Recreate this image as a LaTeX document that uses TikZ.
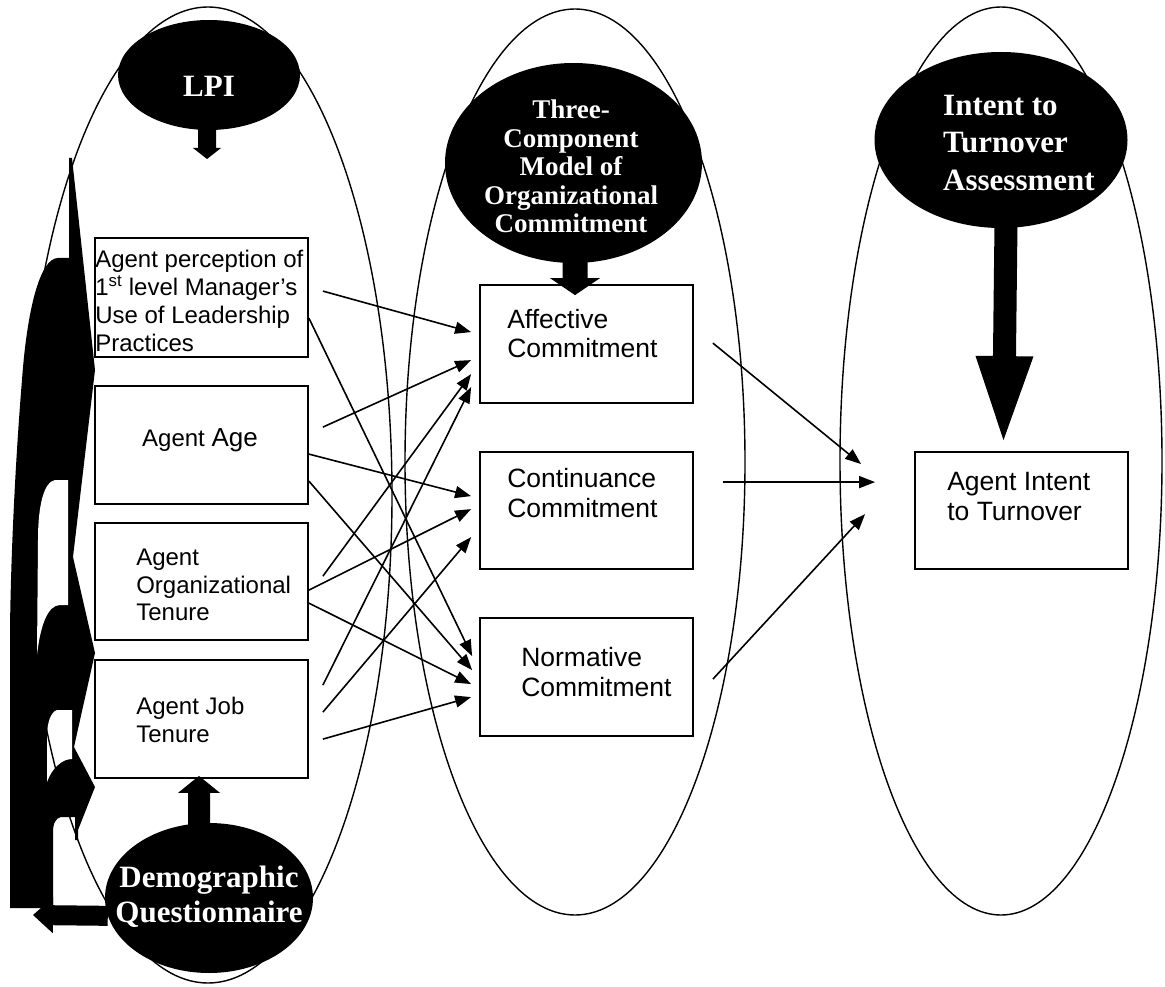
\documentclass[tikz,border=0pt]{standalone}
\usepackage{fontspec}
\setmainfont{Liberation Serif}
\newfontfamily\arialf{Liberation Sans}
\usetikzlibrary{arrows.meta,calc,shapes.geometric}
\newcommand\blockarr[5]{%
  \path ($(#2)!#5!(#1)$) coordinate (tmpH);
  \fill ($(#1)!#3!90:(#2)$) -- ($(tmpH)!#3!90:(#2)$) -- ($(tmpH)!#4!90:(#2)$) -- (#2)
     -- ($(tmpH)!#4!-90:(#2)$) -- ($(tmpH)!#3!-90:(#2)$) -- ($(#1)!#3!-90:(#2)$) -- cycle;}
\begin{document}
\begin{tikzpicture}[x=1pt,y=-1pt,
  box/.style={draw, line width=1.8pt, fill=white, inner sep=0pt, minimum width=213pt},
  oval/.style={draw, line width=1.4pt, ellipse, inner sep=0pt},
  blk/.style={fill=black, ellipse, inner sep=0pt},
  wlbl/.style={text=white, inner sep=0pt},
  btxt/.style={font=\arialf\fontsize{24}{28}\selectfont, inner sep=0pt, align=left},
  mtxt/.style={font=\arialf\fontsize{26.5}{29.5}\selectfont, inner sep=0pt, align=left},
  thin/.style={line width=1.6pt, -{Triangle[length=16pt,width=12pt]}}]
\useasboundingbox (0,0) rectangle (1165,987);
% left curved block arrows silhouette
\fill (69,158) -- (72,158) -- (95,370) -- (73,557) -- (95,653) -- (74,747) -- (95,787)
  -- (78,830) -- (78,840) -- (75,840) -- (75,817) -- (61,817) .. controls (56,818) and (53,823) .. (53,832)
  -- (53,908) -- (10,908) -- (10,630) .. controls (11,540) and (17,440) .. (22,380)
  .. controls (27,310) and (40,258) .. (58,258) -- (69,258) -- cycle;
\fill[white] (68,480) -- (55,480) .. controls (44,482) and (38,505) .. (38,540) -- (37,655)
  .. controls (40,628) and (47,605) .. (60,605) -- (68,605) -- cycle;
\fill[white] (72,710) -- (57,710) .. controls (51,712) and (47,722) .. (47,737) -- (47,782)
  .. controls (52,768) and (62,759) .. (72,759) -- cycle;
% large outline ellipses
\node[oval, minimum width=368pt, minimum height=976pt] (e1) at (208,495) {};
\node[oval, minimum width=340pt, minimum height=906pt] (e2) at (575,462) {};
\node[oval, minimum width=322pt, minimum height=908pt] (e3) at (1001,461) {};
% boxes
\node[box, minimum height=119pt] (b1) at (201.5,297.5) {};
\node[box, minimum height=118pt] (b2) at (201.5,445) {};
\node[box, minimum height=117pt] (b3) at (201.5,581.5) {};
\node[box, minimum height=118pt] (b4) at (201.5,719) {};
\node[box, minimum height=118pt] (m1) at (586.5,344) {};
\node[box, minimum height=117pt] (m2) at (586.5,510.5) {};
\node[box, minimum height=118pt] (m3) at (586.5,677) {};
\node[box, minimum height=117pt] (t1) at (1021.5,510.5) {};
% box texts
\node[btxt, anchor=north west] at ($(b1.north west)+(1,12.5)$) {Agent perception of\\1\textsuperscript{st} level Manager’s\\Use of Leadership\\Practices};
\node[btxt, anchor=base] at ($(b2.north)+(-1.5,61)$) {Agent \fontsize{26}{28}\selectfont Age};
\node[btxt, anchor=north west, font=\arialf\fontsize{24}{27.5}\selectfont] at ($(b3.north west)+(42,26.8)$) {Agent\\Organizational\\Tenure};
\node[btxt, anchor=north west] at ($(b4.north west)+(42,37.8)$) {Agent Job\\Tenure};
\node[mtxt, anchor=north west] at ($(m1.north west)+(28,24.7)$) {Affective\\Commitment};
\node[mtxt, anchor=north west, font=\arialf\fontsize{26.5}{30}\selectfont] at ($(m2.north west)+(28,16.7)$) {Continuance\\Commitment};
\node[mtxt, anchor=north west] at ($(m3.north west)+(42,30)$) {Normative\\Commitment};
\node[mtxt, anchor=north west] at ($(t1.north west)+(33,21)$) {Agent Intent\\to Turnover};
% black ovals
\node[blk, minimum width=182pt, minimum height=110pt] (lpi) at (209,75) {};
\node[wlbl, anchor=base, font=\bfseries\fontsize{31}{36}\selectfont] at (209,97) {LPI};
\node[blk, minimum width=257pt, minimum height=200pt] (tcm) at (573.5,163) {};
\node[wlbl, anchor=north, align=center, font=\bfseries\fontsize{27}{28.5}\selectfont] at (571,99.6) {Three-\\Component\\Model of\\Organizational\\Commitment};
\node[blk, minimum width=253pt, minimum height=176pt] (ita) at (1001,140) {};
\node[wlbl, anchor=north west, align=left, font=\bfseries\fontsize{31}{37.5}\selectfont] at (943,95) {Intent to\\Turnover\\Assessment};
\node[blk, minimum width=208pt, minimum height=150pt] (dq) at (209,898) {};
\node[wlbl, anchor=north, align=center, font=\bfseries\fontsize{31}{35}\selectfont] at (209,866) {Demographic\\Questionnaire};
% block arrows
\coordinate (lpitip) at (207,159);
\coordinate (dqtip) at (33,915);
\blockarr{$(lpi.south)+(-2,-4)$}{lpitip}{9pt}{14pt}{11pt}
\blockarr{$(tcm.south)+(1.5,-4)$}{$(m1.north)+(-11.5,11)$}{12.5pt}{25pt}{17pt}
\blockarr{$(ita.south)+(5,-4)$}{$(t1.north)+(-18,-11)$}{11.5pt}{29pt}{84pt}
\blockarr{$(dq.north)+(-10,4)$}{$(b4.south)+(-2.5,-3)$}{11pt}{21pt}{17pt}
\blockarr{dq.190}{dqtip}{10pt}{18pt}{20pt}
% thin arrows
\draw[thin] ($(b1.north east)+(14,54)$) -- ($(m1.north west)+(-8,48)$);
\draw[thin] ($(b1.north east)+(0,81)$) -- ($(m3.north west)+(-7,39)$);
\draw[thin] ($(b2.north east)+(14,42)$) -- ($(m1.north west)+(-8,76)$);
\draw[thin] ($(b2.north east)+(0,69)$) -- ($(m2.north west)+(-8,45)$);
\draw[thin] ($(b2.north east)+(0,96)$) -- ($(m3.north west)+(-7,53)$);
\draw[thin] ($(b3.north east)+(14,54)$) -- ($(m1.north west)+(-8,90)$);
\draw[thin] ($(b3.north east)+(0,68)$) -- ($(m2.north west)+(-8,58)$);
\draw[thin] ($(b3.north east)+(0,81)$) -- ($(m3.north west)+(-8,67)$);
\draw[thin] ($(b4.north east)+(14,26)$) -- ($(m1.north west)+(-8,103)$);
\draw[thin] ($(b4.north east)+(14,53)$) -- ($(m2.north west)+(-8,86)$);
\draw[thin] ($(b4.north east)+(14,80)$) -- ($(m3.north west)+(-8,80)$);
\draw[thin] ($(m1.north east)+(19,59)$) -- ($(t1.north west)+(-53,13)$);
\draw[thin] ($(m2.north east)+(29,31)$) -- ($(t1.north west)+(-39,31)$);
\draw[thin] ($(m3.north east)+(19,62)$) -- ($(t1.north west)+(-49,63)$);
\end{tikzpicture}
\end{document}
